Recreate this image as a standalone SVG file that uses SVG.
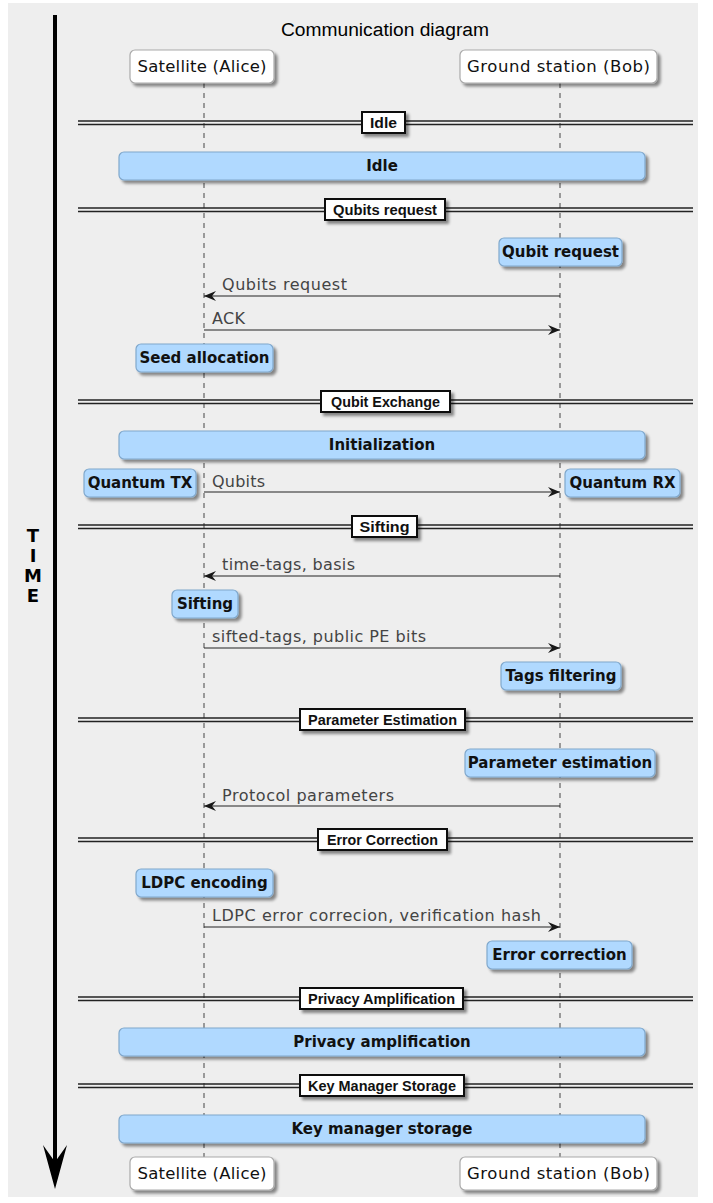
<svg xmlns="http://www.w3.org/2000/svg" width="713" height="1203" viewBox="0 0 713 1203">
<defs>
<filter id="sh" x="-10%" y="-20%" width="130%" height="170%">
<feGaussianBlur in="SourceAlpha" stdDeviation="1.5"/>
<feOffset dx="3" dy="3" result="o"/>
<feComponentTransfer><feFuncA type="linear" slope="0.45"/></feComponentTransfer>
<feMerge><feMergeNode/><feMergeNode in="SourceGraphic"/></feMerge>
</filter>
<marker id="ah" viewBox="0 0 13 10" refX="12" refY="5" markerWidth="13" markerHeight="10" markerUnits="userSpaceOnUse" orient="auto">
<path d="M0,0 L12,5 L0,10 L4,5 Z" fill="#181818"/>
</marker>
</defs>
<style>
.part rect{fill:#fff;stroke:#aaa;stroke-width:1.2}
.part text{font-family:"DejaVu Sans",sans-serif;font-size:16.5px;fill:#111;text-anchor:middle}
.note rect{fill:#B0D9FF;stroke:#80A8CC;stroke-width:1.2}
.note text{font-family:"DejaVu Sans",sans-serif;font-size:15px;fill:#111;text-anchor:middle;font-weight:bold}
.div line{stroke:#222;stroke-width:1.4}
.div rect{fill:#fff;stroke:#111;stroke-width:2}
.div text{font-family:"Liberation Sans",sans-serif;font-size:14px;font-weight:bold;fill:#111;text-anchor:middle}
.life{stroke:#444;stroke-width:1;stroke-dasharray:5,5}
.msg line{stroke:#222;stroke-width:1.2;marker-end:url(#ah)}
.msg text{font-family:"DejaVu Sans",sans-serif;font-size:16px;fill:#444}
</style>
<rect x="8" y="3" width="690" height="1194" fill="#EEEEEE"/>

<g id="timeaxis">
<line x1="55" y1="15" x2="55" y2="1165" stroke="#000" stroke-width="4"/>
<path d="M55,1189 L43,1145 L55,1162 L67,1145 Z" fill="#000"/>
<g font-family="DejaVu Sans,sans-serif" font-size="18" font-weight="bold" text-anchor="middle" fill="#000">
<text x="33" y="542">T</text><text x="33" y="562">I</text><text x="33" y="582">M</text><text x="33" y="602">E</text>
</g>
</g>

<text id="title" x="385" y="36" font-family="Liberation Sans,sans-serif" font-size="18" fill="#000" text-anchor="middle" textLength="208" lengthAdjust="spacingAndGlyphs">Communication diagram</text>

<g id="lifelines">
<line class="life" x1="204" y1="83" x2="204" y2="1157"/>
<line class="life" x1="560" y1="83" x2="560" y2="1157"/>
</g>

<g id="alice-top" class="part"><rect x="130" y="50" width="144" height="33" rx="5" filter="url(#sh)"/><text x="202" y="72" textLength="129">Satellite (Alice)</text></g>
<g id="bob-top" class="part"><rect x="460" y="50" width="197" height="33" rx="5" filter="url(#sh)"/><text x="558.5" y="72" textLength="183">Ground station (Bob)</text></g>
<g id="alice-bottom" class="part"><rect x="130" y="1157" width="144" height="33" rx="5" filter="url(#sh)"/><text x="202" y="1179" textLength="129">Satellite (Alice)</text></g>
<g id="bob-bottom" class="part"><rect x="460" y="1157" width="197" height="33" rx="5" filter="url(#sh)"/><text x="558.5" y="1179" textLength="183">Ground station (Bob)</text></g>

<g id="div-idle" class="div"><line x1="78" y1="121" x2="693" y2="121"/><line x1="78" y1="124.5" x2="693" y2="124.5"/><rect x="362" y="112" width="43" height="21" filter="url(#sh)"/><text x="383.5" y="128" textLength="27" lengthAdjust="spacingAndGlyphs">Idle</text></g>
<g id="div-qreq" class="div"><line x1="78" y1="208" x2="693" y2="208"/><line x1="78" y1="211.5" x2="693" y2="211.5"/><rect x="325" y="199" width="120" height="21" filter="url(#sh)"/><text x="385" y="215" textLength="104" lengthAdjust="spacingAndGlyphs">Qubits request</text></g>
<g id="div-qex" class="div"><line x1="78" y1="400" x2="693" y2="400"/><line x1="78" y1="403.5" x2="693" y2="403.5"/><rect x="321" y="391" width="129" height="21" filter="url(#sh)"/><text x="385.5" y="407" textLength="109" lengthAdjust="spacingAndGlyphs">Qubit Exchange</text></g>
<g id="div-sift" class="div"><line x1="78" y1="525" x2="693" y2="525"/><line x1="78" y1="528.5" x2="693" y2="528.5"/><rect x="352" y="516" width="65" height="21" filter="url(#sh)"/><text x="384.5" y="532" textLength="50" lengthAdjust="spacingAndGlyphs">Sifting</text></g>
<g id="div-pe" class="div"><line x1="78" y1="718" x2="693" y2="718"/><line x1="78" y1="721.5" x2="693" y2="721.5"/><rect x="300" y="709" width="165" height="21" filter="url(#sh)"/><text x="382.5" y="725" textLength="149" lengthAdjust="spacingAndGlyphs">Parameter Estimation</text></g>
<g id="div-ec" class="div"><line x1="78" y1="838" x2="693" y2="838"/><line x1="78" y1="841.5" x2="693" y2="841.5"/><rect x="318" y="829" width="129" height="21" filter="url(#sh)"/><text x="382.5" y="845" textLength="111" lengthAdjust="spacingAndGlyphs">Error Correction</text></g>
<g id="div-pa" class="div"><line x1="78" y1="997" x2="693" y2="997"/><line x1="78" y1="1000.5" x2="693" y2="1000.5"/><rect x="300" y="988" width="163" height="21" filter="url(#sh)"/><text x="381.5" y="1004" textLength="147" lengthAdjust="spacingAndGlyphs">Privacy Amplification</text></g>
<g id="div-kms" class="div"><line x1="78" y1="1084" x2="693" y2="1084"/><line x1="78" y1="1087.5" x2="693" y2="1087.5"/><rect x="300" y="1075" width="164" height="21" filter="url(#sh)"/><text x="382" y="1091" textLength="148" lengthAdjust="spacingAndGlyphs">Key Manager Storage</text></g>

<g id="note-idle" class="note"><rect x="119" y="152" width="526" height="28" rx="5" filter="url(#sh)"/><text x="382" y="171">Idle</text></g>
<g id="note-qreq" class="note"><rect x="499" y="238" width="123" height="28" rx="5" filter="url(#sh)"/><text x="560.5" y="257">Qubit request</text></g>
<g id="note-seed" class="note"><rect x="136" y="344" width="137" height="28" rx="5" filter="url(#sh)"/><text x="204.5" y="363">Seed allocation</text></g>
<g id="note-init" class="note"><rect x="119" y="431" width="526" height="28" rx="5" filter="url(#sh)"/><text x="382" y="450">Initialization</text></g>
<g id="note-qtx" class="note"><rect x="84" y="469" width="112" height="28" rx="5" filter="url(#sh)"/><text x="140" y="488">Quantum TX</text></g>
<g id="note-qrx" class="note"><rect x="565" y="469" width="115" height="28" rx="5" filter="url(#sh)"/><text x="622.5" y="488">Quantum RX</text></g>
<g id="note-sift" class="note"><rect x="172" y="590" width="66" height="28" rx="5" filter="url(#sh)"/><text x="205" y="609">Sifting</text></g>
<g id="note-tags" class="note"><rect x="501" y="662" width="120" height="28" rx="5" filter="url(#sh)"/><text x="561" y="681">Tags filtering</text></g>
<g id="note-pe" class="note"><rect x="465" y="749" width="190" height="28" rx="5" filter="url(#sh)"/><text x="560" y="768">Parameter estimation</text></g>
<g id="note-ldpc" class="note"><rect x="136" y="869" width="137" height="28" rx="5" filter="url(#sh)"/><text x="204.5" y="888">LDPC encoding</text></g>
<g id="note-ec" class="note"><rect x="487" y="941" width="145" height="28" rx="5" filter="url(#sh)"/><text x="559.5" y="960">Error correction</text></g>
<g id="note-pa" class="note"><rect x="119" y="1028" width="526" height="28" rx="5" filter="url(#sh)"/><text x="382" y="1047">Privacy amplification</text></g>
<g id="note-kms" class="note"><rect x="119" y="1115" width="526" height="28" rx="5" filter="url(#sh)"/><text x="382" y="1134" textLength="181">Key manager storage</text></g>

<g id="connectors" class="msg">
<line x1="560" y1="296" x2="204" y2="296"/><text x="222" y="290" textLength="125">Qubits request</text>
<line x1="204" y1="330" x2="560" y2="330"/><text x="212" y="324" textLength="33">ACK</text>
<line x1="204" y1="492" x2="560" y2="492"/><text x="212" y="487" textLength="53">Qubits</text>
<line x1="560" y1="576" x2="204" y2="576"/><text x="222" y="570" textLength="133">time-tags, basis</text>
<line x1="204" y1="648" x2="560" y2="648"/><text x="212" y="642" textLength="214">sifted-tags, public PE bits</text>
<line x1="560" y1="806" x2="204" y2="806"/><text x="222" y="801" textLength="172">Protocol parameters</text>
<line x1="204" y1="927" x2="560" y2="927"/><text x="212" y="921" textLength="329">LDPC error correcion, verification hash</text>
</g>
</svg>
